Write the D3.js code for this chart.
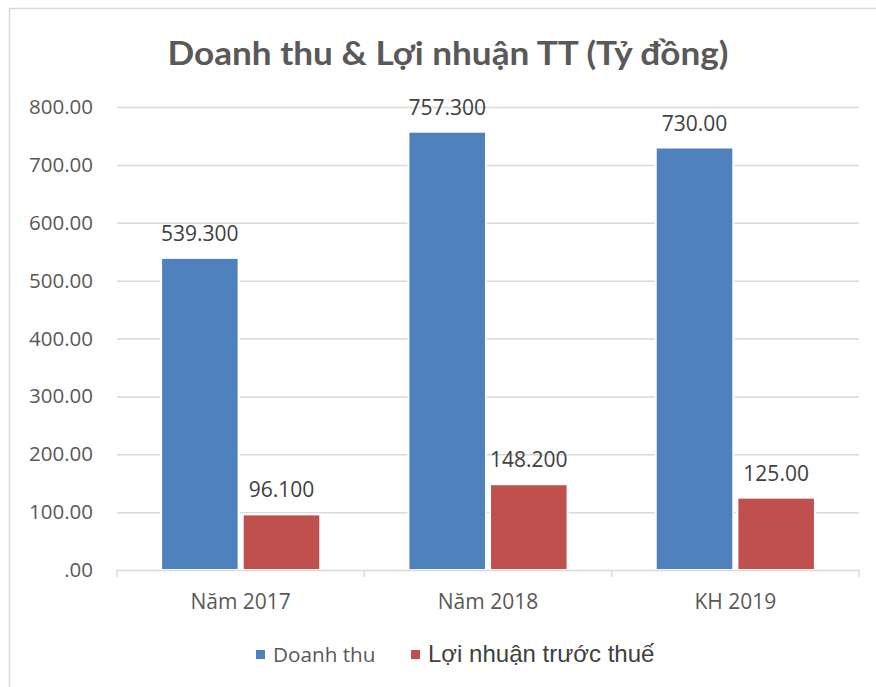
<!DOCTYPE html>
<html>
<head>
<meta charset="utf-8">
<script src="https://cdn.jsdelivr.net/npm/d3@7"></script>
<style>
  body { margin: 0; background: #fff; }
  svg { display: block; }
</style>
</head>
<body>
<svg id="chart"></svg>
<script>
var categories = ['Năm 2017', 'Năm 2018', 'KH 2019'];
var seriesNames = ['Doanh thu', 'Lợi nhuận trước thuế'];
var revenue = [539.3, 757.3, 730.0];
var profit = [96.1, 148.2, 125.0];
var revenueLabels = ['539.300', '757.300', '730.00'];
var profitLabels = ['96.100', '148.200', '125.00'];
var yTicks = [0, 100, 200, 300, 400, 500, 600, 700, 800];

var colors = ['#4f81bd', '#c0504d'];
var width = 876;
var height = 687;

var x0 = 117, x1 = 859;
var yTop = 107, yBottom = 570;

var svg = d3.select('#chart')
    .attr('width', width)
    .attr('height', height);

// outer frame (only top and left edges visible in the picture)
svg.append('rect')
    .attr('x', 9.5)
    .attr('y', 8.5)
    .attr('width', 900)
    .attr('height', 700)
    .attr('fill', '#fff')
    .attr('stroke', '#d9d9d9')
    .attr('stroke-width', 1.5);

svg.append('text')
    .attr('x', 448)
    .attr('y', 65)
    .attr('text-anchor', 'middle')
    .attr('font-family', 'Lato, "Open Sans", sans-serif')
    .attr('font-weight', 'bold')
    .attr('font-size', 32)
    .attr('fill', '#595959')
    .attr('textLength', 561)
    .attr('lengthAdjust', 'spacingAndGlyphs')
    .text('Doanh thu & Lợi nhuận TT (Tỷ đồng)');

var ys = d3.scaleLinear().domain([0, 800]).range([yBottom, yTop]);
var xs = d3.scaleBand().domain(categories).range([x0, x1]).paddingInner(0).paddingOuter(0);
var xsub = d3.scaleBand().domain([0, 1]).range([0, xs.bandwidth()]).paddingInner(0.05).paddingOuter(0.54);

// gridlines
svg.append('g')
    .selectAll('line').data(yTicks.slice(1))
    .enter()
    .append('line')
    .attr('x1', x0)
    .attr('x2', x1)
    .attr('y1', function (d) { return ys(d) + 0.5; })
    .attr('y2', function (d) { return ys(d) + 0.5; })
    .attr('stroke', '#d9d9d9')
    .attr('stroke-width', 1.5);

// y labels
svg.append('g')
    .selectAll('text').data(yTicks)
    .enter()
    .append('text')
    .attr('x', 93)
    .attr('y', function (d) { return ys(d) + 7; })
    .attr('text-anchor', 'end')
    .attr('font-family', '"Open Sans", sans-serif')
    .attr('font-size', 20.5)
    .attr('fill', '#595959')
    .text(function (d) { return d === 0 ? '.00' : d3.format('.2f')(d); });

// bars
var groups = svg.append('g')
    .selectAll('g').data(categories)
    .enter()
    .append('g')
    .attr('transform', function (d) { return 'translate(' + xs(d) + ',0)'; });

var allSeries = [revenue, profit];
var allLabels = [revenueLabels, profitLabels];

groups.each(function (cat, i) {
    var g = d3.select(this);
    [0, 1].forEach(function (s) {
        var v = allSeries[s][i];
        g.append('rect')
            .attr('x', xsub(s))
            .attr('y', ys(v))
            .attr('width', xsub.bandwidth())
            .attr('height', ys(0) - ys(v))
            .attr('fill', colors[s])
            .attr('stroke', '#fff')
            .attr('stroke-width', 2);
        g.append('text')
            .attr('x', xsub(s) + xsub.bandwidth() / 2)
            .attr('y', ys(v) - 17)
            .attr('text-anchor', 'middle')
            .attr('font-family', '"Open Sans", sans-serif')
            .attr('font-size', 21)
            .attr('fill', '#404040')
            .text(allLabels[s][i]);
    });
});

// x axis line and ticks
var axis = svg.append('g');
axis.append('line')
    .attr('x1', x0).attr('x2', x1)
    .attr('y1', yBottom + 0.5).attr('y2', yBottom + 0.5)
    .attr('stroke', '#d9d9d9')
    .attr('stroke-width', 1.5);
axis.selectAll('line.tick')
    .data(categories.map(function (c) { return xs(c); }).concat([x1]))
    .enter()
    .append('line')
    .attr('class', 'tick')
    .attr('x1', function (d) { return d; })
    .attr('x2', function (d) { return d; })
    .attr('y1', yBottom)
    .attr('y2', yBottom + 7)
    .attr('stroke', '#d9d9d9')
    .attr('stroke-width', 1.5);

axis.selectAll('text')
    .data(categories)
    .enter()
    .append('text')
    .attr('x', function (d) { return xs(d) + xs.bandwidth() / 2; })
    .attr('y', 609)
    .attr('text-anchor', 'middle')
    .attr('font-family', '"Open Sans", sans-serif')
    .attr('font-size', 21)
    .attr('fill', '#595959')
    .text(function (d) { return d; });

// legend
var legendX = [256, 411];
var legendSize = [20.7, 24];
var legendFont = ['"Open Sans", sans-serif', '"Liberation Sans", Arial, sans-serif'];
var legend = svg.append('g')
    .selectAll('g').data(seriesNames)
    .enter()
    .append('g');
legend.append('rect')
    .attr('x', function (d, i) { return legendX[i]; })
    .attr('y', 650)
    .attr('width', 9)
    .attr('height', 9)
    .attr('fill', function (d, i) { return colors[i]; });
legend.append('text')
    .attr('x', function (d, i) { return legendX[i] + 17; })
    .attr('y', 662)
    .attr('font-family', function (d, i) { return legendFont[i]; })
    .attr('font-size', function (d, i) { return legendSize[i]; })
    .attr('fill', function (d, i) { return i === 0 ? '#595959' : '#404040'; })
    .text(function (d) { return d; });
</script>
</body>
</html>
